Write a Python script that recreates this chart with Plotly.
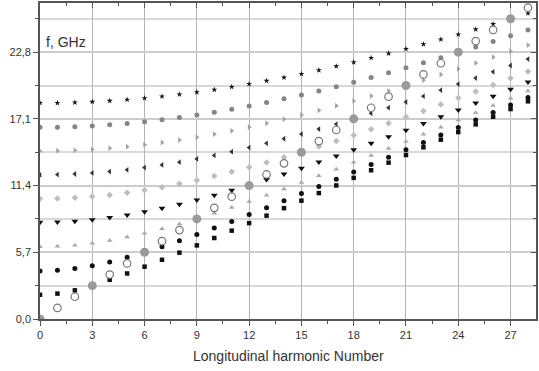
import plotly.graph_objects as go

# Longitudinal harmonic number n = 0..28
n_all = list(range(29))

# Frequencies (GHz) of the transverse mode families versus harmonic number
mode_9 = [18.45, 18.46, 18.50, 18.56, 18.64, 18.74, 18.87, 19.02, 19.19, 19.38,
          19.59, 19.83, 20.08, 20.35, 20.63, 20.94, 21.26, 21.59, 21.94, 22.31,
          22.69, 23.08, 23.48, 23.89, 24.32, 24.75, 25.20, 25.65, 26.11]
mode_8 = [16.38, 16.39, 16.43, 16.50, 16.59, 16.71, 16.85, 17.02, 17.21, 17.42,
          17.66, 17.92, 18.19, 18.49, 18.81, 19.14, 19.49, 19.85, 20.23, 20.63,
          21.04, 21.46, 21.89, 22.33, 22.79, 23.25, 23.72, 24.20, 24.69]
mode_7 = [14.35, 14.37, 14.41, 14.49, 14.59, 14.72, 14.89, 15.08, 15.29, 15.53,
          15.79, 16.08, 16.39, 16.72, 17.07, 17.43, 17.82, 18.22, 18.63, 19.06,
          19.50, 19.95, 20.41, 20.89, 21.37, 21.87, 22.37, 22.88, 23.40]
mode_6 = [12.32, 12.34, 12.39, 12.48, 12.60, 12.75, 12.94, 13.16, 13.40, 13.68,
          13.98, 14.30, 14.65, 15.01, 15.40, 15.80, 16.23, 16.66, 17.11, 17.58,
          18.06, 18.54, 19.04, 19.55, 20.07, 20.59, 21.12, 21.66, 22.21]
mode_5 = [10.27, 10.29, 10.35, 10.46, 10.60, 10.79, 11.01, 11.26, 11.55, 11.86,
          12.21, 12.58, 12.97, 13.38, 13.81, 14.26, 14.73, 15.21, 15.70, 16.21,
          16.72, 17.25, 17.78, 18.33, 18.88, 19.43, 20.00, 20.57, 21.14]
mode_4 = [8.26, 8.29, 8.36, 8.49, 8.67, 8.89, 9.16, 9.46, 9.80, 10.17,
          10.57, 11.00, 11.44, 11.91, 12.39, 12.89, 13.41, 13.93, 14.47, 15.02,
          15.57, 16.13, 16.71, 17.28, 17.86, 18.45, 19.04, 19.64, 20.24]
mode_3 = [6.17, 6.21, 6.31, 6.48, 6.71, 7.00, 7.33, 7.71, 8.12, 8.56,
          9.03, 9.53, 10.04, 10.57, 11.11, 11.67, 12.23, 12.80, 13.39, 13.98,
          14.57, 15.17, 15.78, 16.39, 17.00, 17.62, 18.24, 18.86, 19.48]
mode_2 = [4.11, 4.16, 4.32, 4.56, 4.88, 5.27, 5.71, 6.18, 6.69, 7.22,
          7.78, 8.34, 8.92, 9.51, 10.11, 10.72, 11.33, 11.95, 12.57, 13.20,
          13.82, 14.46, 15.09, 15.73, 16.36, 17.00, 17.65, 18.29, 18.93]
mode_1 = [2.07, 2.17, 2.45, 2.86, 3.35, 3.89, 4.47, 5.06, 5.67, 6.29,
          6.92, 7.55, 8.19, 8.83, 9.47, 10.11, 10.76, 11.41, 12.06, 12.71,
          13.36, 14.01, 14.67, 15.32, 15.97, 16.63, 17.28, 17.94, 18.60]

# Fundamental (light-line) branch
n_open = [1, 2, 4, 5, 7, 8, 10, 11, 13, 14, 16, 17, 19, 20, 22, 23, 25, 26, 28]
f_open = [0.95, 1.90, 3.80, 4.75, 6.65, 7.60, 9.50, 10.45, 12.35, 13.30,
          15.20, 16.15, 18.05, 19.00, 20.90, 21.85, 23.75, 24.70, 26.60]
n_big = [0, 3, 6, 9, 12, 15, 18, 21, 24, 27]
f_big = [0.00, 2.85, 5.70, 8.55, 11.40, 14.25, 17.10, 19.95, 22.80, 25.65]

y_tick_vals = [0.0, 5.7, 11.4, 17.1, 22.8]
y_tick_text = ["0,0", "5,7", "11,4", "17,1", "22,8"]
x_tick_vals = [0, 3, 6, 9, 12, 15, 18, 21, 24, 27]

X_RANGE = [0, 28.46]
Y_RANGE = [0, 27.0]

styles = [
    (mode_9, dict(symbol="star", size=4.5, color="#151515")),
    (mode_8, dict(symbol="circle", size=5, color="#858585")),
    (mode_7, dict(symbol="triangle-right", size=5, color="#a2a2a2")),
    (mode_6, dict(symbol="triangle-left", size=5, color="#333333")),
    (mode_5, dict(symbol="diamond", size=5, color="#bdbdbd")),
    (mode_4, dict(symbol="triangle-down", size=6, color="#111111")),
    (mode_3, dict(symbol="triangle-up", size=5, color="#aaaaaa")),
    (mode_2, dict(symbol="circle", size=5, color="#111111")),
    (mode_1, dict(symbol="square", size=4.5, color="#111111")),
]

fig = go.Figure()
for vals, mk in styles:
    fig.add_trace(go.Scatter(x=n_all, y=vals, mode="markers", marker=mk,
                             showlegend=False))

fig.add_trace(go.Scatter(x=n_big, y=f_big, mode="markers", showlegend=False,
                         marker=dict(symbol="circle", size=9, color="#9a9a9a")))
fig.add_trace(go.Scatter(x=n_open, y=f_open, mode="markers", showlegend=False,
                         marker=dict(symbol="circle", size=7.5, color="white",
                                     line=dict(color="#777777", width=1.2))))

# Empty trace to carry the mirrored (inward-tick) top/right axes
fig.add_trace(go.Scatter(x=[], y=[], xaxis="x2", yaxis="y2", showlegend=False))

axis_font = dict(family="Liberation Sans, Arial, sans-serif", size=11, color="#333333")
label_font = dict(family="Liberation Sans, Arial, sans-serif", size=14, color="#333333")

fig.update_layout(
    width=539, height=371,
    margin=dict(l=40, r=1, t=3, b=52),
    paper_bgcolor="white", plot_bgcolor="white",
    font=axis_font,
    xaxis=dict(
        range=X_RANGE, tickvals=x_tick_vals, ticks="outside", ticklen=5,
        tickcolor="#555555", tickwidth=1.2,
        showgrid=True, gridcolor="#b4b4b4", gridwidth=1.3,
        showline=True, linecolor="#555555", linewidth=1.6, mirror=True,
        zeroline=False, tickfont=axis_font,
        minor=dict(dtick=1.5, tick0=0, ticks="outside", ticklen=3,
                   tickcolor="#555555", showgrid=False),
    ),
    yaxis=dict(
        range=Y_RANGE, tickvals=y_tick_vals, ticktext=y_tick_text,
        ticks="outside", ticklen=5, tickcolor="#555555", tickwidth=1.2,
        showgrid=True, gridcolor="#cccccc", gridwidth=1.6,
        showline=True, linecolor="#555555", linewidth=1.6, mirror=True,
        zeroline=False, tickfont=axis_font,
        minor=dict(dtick=2.85, tick0=0, ticks="outside", ticklen=3,
                   tickcolor="#555555", showgrid=True, gridcolor="#d9d9d9",
                   gridwidth=1.6),
    ),
    xaxis2=dict(
        overlaying="x", side="top", anchor="y", range=X_RANGE,
        tickvals=x_tick_vals, ticks="inside", ticklen=5, tickcolor="#555555",
        tickwidth=1.2, showticklabels=False, showgrid=False, zeroline=False,
        minor=dict(dtick=1.5, tick0=0, ticks="inside", ticklen=3,
                   tickcolor="#555555", showgrid=False),
    ),
    yaxis2=dict(
        overlaying="y", side="right", anchor="x", range=Y_RANGE,
        tickvals=y_tick_vals, ticks="inside", ticklen=5, tickcolor="#555555",
        tickwidth=1.2, showticklabels=False, showgrid=False, zeroline=False,
        minor=dict(dtick=2.85, tick0=0, ticks="inside", ticklen=3,
                   tickcolor="#555555", showgrid=False),
    ),
    annotations=[
        dict(text="f, GHz", xref="paper", yref="paper", x=0, y=1,
             xshift=4, yshift=-39, xanchor="left", yanchor="middle",
             showarrow=False, font=label_font),
        dict(text="Longitudinal harmonic Number", xref="paper", yref="paper",
             x=0.5, y=0, yshift=-37, xanchor="center", yanchor="middle",
             showarrow=False, font=label_font),
    ],
)

fig.write_html("out.html")
